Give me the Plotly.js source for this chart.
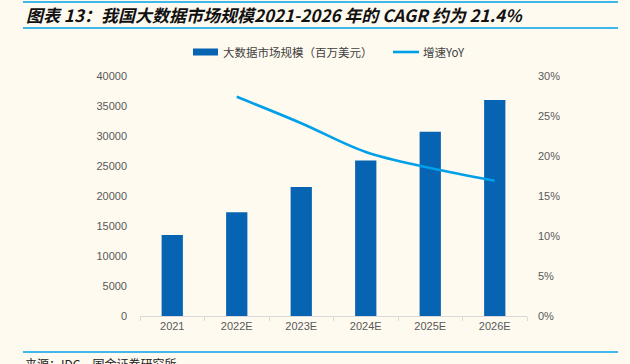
<!DOCTYPE html>
<html>
<head>
<meta charset="utf-8">
<script src="https://cdn.plot.ly/plotly-3.0.1.min.js"></script>
<style>html,body{margin:0;padding:0;background:#fefaf0;}#chart{width:630px;height:364px;}</style>
</head>
<body>
<div id="chart"></div>
<script>
const categories = ['2021', '2022E', '2023E', '2024E', '2025E', '2026E'];
const marketSize = [13500, 17300, 21500, 25900, 30700, 36000];
const growthCats = ['2022E', '2023E', '2024E', '2025E', '2026E'];
const growthYoY = [0.274, 0.241, 0.205, 0.185, 0.169];
const leftTicks = [0, 5000, 10000, 15000, 20000, 25000, 30000, 35000, 40000];
const rightTicks = [0, 0.05, 0.10, 0.15, 0.20, 0.25, 0.30];
const titleText = '图表 13：我国大数据市场规模2021-2026 年的 CAGR 约为 21.4%';
const barName = '大数据市场规模（百万美元）';
const lineName = '增速YoY';
const sourceText = '来源：IDC，国金证券研究所';

const BAR = '#0664b2', LINE = '#00a0e9', RULE = '#00a0e9';
const CJK = '"Noto Sans CJK SC", "Liberation Sans", sans-serif';
const LAT = '"Liberation Sans", Arial, sans-serif';

// plot area in pixels: left 140, right 527, top 76, bottom 316
const L = 140, R = 527, T = 76, B = 316;
const px = x => (x - L) / (R - L);
const py = y => (B - y) / (B - T);

const traces = [
  {type: 'bar', x: categories, y: marketSize, name: barName, marker: {color: BAR}, yaxis: 'y', hoverinfo: 'x+y'},
  {type: 'scatter', mode: 'lines', x: growthCats, y: growthYoY, name: lineName, yaxis: 'y2',
   line: {color: LINE, width: 2.6, shape: 'spline', smoothing: 1}}
];

const shapes = [
  {type: 'line', xref: 'paper', yref: 'paper', x0: px(23), x1: px(618), y0: py(2), y1: py(2), line: {color: RULE, width: 1.5}},
  {type: 'line', xref: 'paper', yref: 'paper', x0: px(23), x1: px(618), y0: py(28), y1: py(28), line: {color: RULE, width: 1.5}},
  {type: 'line', xref: 'paper', yref: 'paper', x0: px(23), x1: px(618), y0: py(352), y1: py(352), line: {color: RULE, width: 1.5}},
  // legend swatches
  {type: 'rect', xref: 'paper', yref: 'paper', x0: px(193), x1: px(218), y0: py(48.5), y1: py(55.5), fillcolor: BAR, line: {width: 0}},
  {type: 'line', xref: 'paper', yref: 'paper', x0: px(393), x1: px(419), y0: py(52), y1: py(52), line: {color: LINE, width: 2.6}}
];

const annotations = [
  {xref: 'paper', yref: 'paper', x: px(24), y: py(14.5), xanchor: 'left', yanchor: 'middle', showarrow: false,
   text: '<b><i>' + titleText + '</i></b>', font: {family: CJK, size: 17, color: '#111111'}},
  {xref: 'paper', yref: 'paper', x: px(221), y: py(52), xanchor: 'left', yanchor: 'middle', showarrow: false,
   text: barName, font: {family: CJK, size: 11.5, color: '#404040'}},
  {xref: 'paper', yref: 'paper', x: px(421), y: py(52), xanchor: 'left', yanchor: 'middle', showarrow: false,
   text: lineName, font: {family: CJK, size: 11.5, color: '#404040'}},
  {xref: 'paper', yref: 'paper', x: px(23), y: py(363), xanchor: 'left', yanchor: 'middle', showarrow: false,
   text: sourceText, font: {family: CJK, size: 12, color: '#222222'}}
];

const layout = {
  width: 630, height: 364,
  margin: {l: L, r: 630 - R, t: T, b: 364 - B, pad: 0},
  paper_bgcolor: '#fefaf0', plot_bgcolor: '#fefaf0',
  showlegend: false,
  bargap: 0.67,
  font: {family: LAT, size: 11, color: '#595959'},
  xaxis: {type: 'category', showgrid: false, showline: true, linecolor: '#d9d9d9', linewidth: 1,
          ticks: 'outside', tickson: 'boundaries', ticklen: 4, tickcolor: '#d9d9d9',
          tickfont: {family: LAT, size: 11, color: '#595959'}, zeroline: false},
  yaxis: {range: [0, 40000], tickvals: leftTicks, ticktext: leftTicks.map(String), showgrid: false, zeroline: false,
          showline: false, ticks: '', ticklabelstandoff: 12, tickfont: {family: LAT, size: 11, color: '#595959'}},
  yaxis2: {range: [0, 0.30], overlaying: 'y', side: 'right', tickvals: rightTicks,
           ticktext: rightTicks.map(v => Math.round(v * 100) + '%'), showgrid: false, zeroline: false,
           showline: false, ticks: '', ticklabelstandoff: 10, tickfont: {family: LAT, size: 11, color: '#595959'}},
  shapes: shapes,
  annotations: annotations
};

Plotly.newPlot('chart', traces, layout, {displayModeBar: false, staticPlot: true});
</script>
</body>
</html>
